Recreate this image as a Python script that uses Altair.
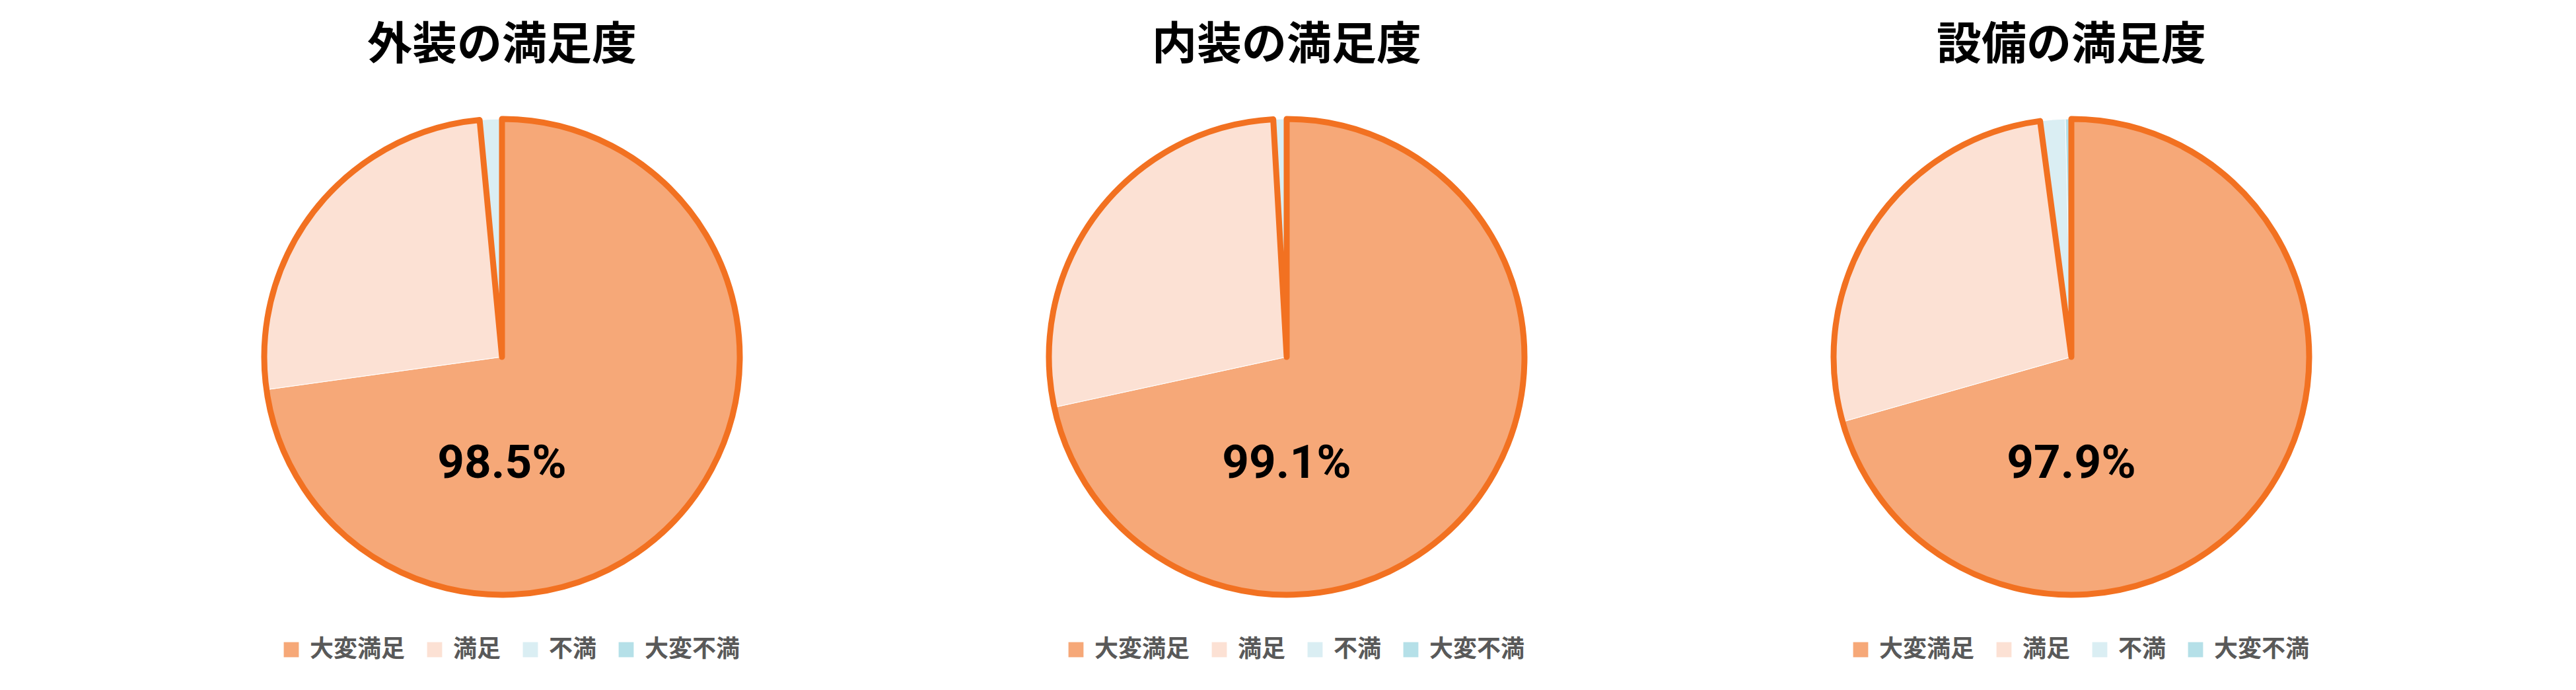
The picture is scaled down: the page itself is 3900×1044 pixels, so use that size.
import altair as alt
import pandas as pd

# ---- data ----
titles = ["外装の満足度", "内装の満足度", "設備の満足度"]
categories = ["大変満足", "満足", "不満", "大変不満"]
values_exterior = [72.8, 25.7, 1.5, 0.0]
values_interior = [71.6, 27.5, 0.9, 0.0]
values_equipment = [70.6, 27.3, 1.7, 0.4]
all_values = [values_exterior, values_interior, values_equipment]
colors = ["#F6A878", "#FCE1D4", "#DAEEF3", "#B5E0E8"]
outline_color = "#F27121"

FONT_JP = "Noto Sans CJK JP"
W, H = 1100, 800
R = 360

rows = []
for t, vals in zip(titles, all_values):
    for i, (c, v) in enumerate(zip(categories, vals)):
        rows.append({"panel": t, "category": c, "value": v, "ord": i})
df = pd.DataFrame(rows)


def panel(title):
    base = alt.Chart(df).transform_filter(alt.datum.panel == title)

    pie = base.mark_arc(radius=R, stroke="white", strokeWidth=1).encode(
        theta=alt.Theta("value:Q", stack=True),
        order=alt.Order("ord:Q", sort="ascending"),
        color=alt.Color(
            "category:N",
            scale=alt.Scale(domain=categories, range=colors),
            sort=categories,
            legend=alt.Legend(
                title=None,
                orient="none",
                direction="horizontal",
                legendX=213,
                legendY=825,
                symbolType="square",
                symbolSize=520,
                symbolStrokeWidth=0,
                labelFont=FONT_JP,
                labelFontSize=36,
                labelFontWeight="bold",
                labelColor="#595959",
                labelOffset=10,
                columnPadding=26,
                symbolOffset=0,
            ),
        ),
    )

    outline = (
        base.transform_calculate(
            grp="indexof(['大変満足','満足'], datum.category) >= 0 ? 'sat' : 'other'"
        )
        .transform_aggregate(total="sum(value)", groupby=["grp"])
        .transform_calculate(gord="datum.grp == 'sat' ? 0 : 1")
        .mark_arc(
            radius=R,
            fillOpacity=0,
            stroke=outline_color,
            strokeWidth=9,
            strokeJoin="round",
        )
        .encode(
            theta=alt.Theta("total:Q", stack=True),
            order=alt.Order("gord:Q", sort="ascending"),
            strokeOpacity=alt.condition(
                alt.datum.grp == "sat", alt.value(1), alt.value(0)
            ),
        )
    )

    label = (
        base.transform_filter(
            "indexof(['大変満足','満足'], datum.category) >= 0"
        )
        .transform_aggregate(total="sum(value)")
        .transform_calculate(txt="format(datum.total, '.1f') + '%'")
        .mark_text(
            font="Roboto",
            fontWeight="bold",
            fontSize=71,
            color="black",
            baseline="middle",
            align="center",
            dy=162,
        )
        .encode(text="txt:N")
    )

    return alt.layer(pie, outline, label).properties(
        width=W,
        height=H,
        title=alt.TitleParams(
            text=title,
            font=FONT_JP,
            fontSize=68,
            fontWeight="bold",
            color="black",
            anchor="middle",
            offset=36,
        ),
    )


chart = (
    alt.hconcat(*[panel(t) for t in titles], spacing=88)
    .resolve_scale(color="independent", theta="independent")
    .resolve_legend(color="independent")
    .properties(padding={"left": 202, "top": 28, "right": 5, "bottom": 5}, background="white")
    .configure_view(stroke=None)
)

chart.save("out.html", embed_options={"renderer": "svg", "actions": False})
